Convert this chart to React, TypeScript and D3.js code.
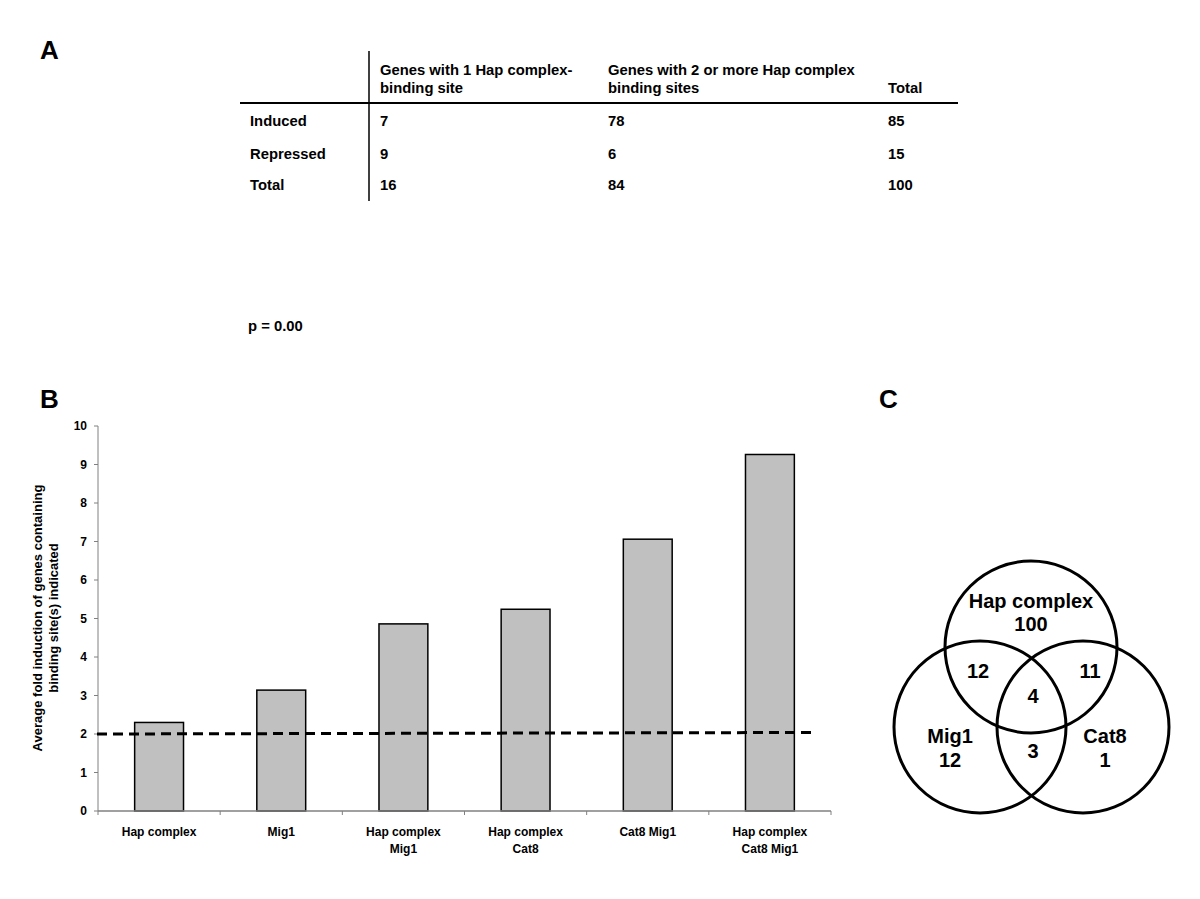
import React from "react";
import * as d3 from "d3";

const tableColumns = ["Genes with 1 Hap complex-|binding site", "Genes with 2 or more Hap complex|binding sites", "Total"];
const tableRows = ["Induced", "Repressed", "Total"];
const oneSite = [7, 9, 16];
const twoSites = [78, 6, 84];
const rowTotals = [85, 15, 100];
const pValueLabel = "p = 0.00";

const barCategories = ["Hap complex", "Mig1", "Hap complex|Mig1", "Hap complex|Cat8", "Cat8 Mig1", "Hap complex|Cat8 Mig1"];
const barValues = [2.3, 3.14, 4.86, 5.24, 7.06, 9.26];
const yTicks = [0, 1, 2, 3, 4, 5, 6, 7, 8, 9, 10];
const thresholdValues = [2.0, 2.04];
const yTitle = ["Average fold induction of genes containing", "binding site(s) indicated"];

const vennSets = ["Hap complex", "Mig1", "Cat8"];
const vennOnly = [100, 12, 1];
const vennPairs = [12, 11, 3]; // Hap∩Mig1, Hap∩Cat8, Mig1∩Cat8
const vennAll = 4;

const FONT = "'Liberation Sans', Arial, sans-serif";

export default function App() {
  const W = 1200, H = 899;
  const m = { left: 98, right: 831, top: 426, bottom: 811 };
  const x = d3.scaleBand<string>().domain(barCategories).range([m.left, m.right]).paddingInner(0.6).paddingOuter(0.3);
  const xb = d3.scaleBand<string>().domain(barCategories).range([m.left, m.right]);
  const y = d3.scaleLinear().domain([0, 10]).range([m.bottom, m.top]);
  const thrX = d3.scaleLinear().domain([0, 1]).range([m.left - 1, 815]);
  const lineGen = d3.line<number>().x((_, i) => thrX(i)).y((v) => y(v));

  // table layout
  const colX = [250, 380, 608, 888];
  const rowY = [126, 159, 190];

  // venn layout
  const R = 86;
  const circles = [
    { cx: 1031, cy: 647 },
    { cx: 980, cy: 727 },
    { cx: 1083, cy: 727 },
  ];

  const ts = { fontFamily: FONT, fontWeight: 700 as const };

  return (
    <svg width={W} height={H} style={{ position: "absolute", left: 0, top: 0, background: "#fff" }}>
      <rect x={0} y={0} width={W} height={H} fill="#fff" />
      {/* Panel labels */}
      <text x={40} y={59} fontSize={26} {...ts}>A</text>
      <text x={40} y={408} fontSize={26} {...ts}>B</text>
      <text x={879} y={408} fontSize={26} {...ts}>C</text>

      {/* Table */}
      <g fontSize={14.8} {...ts} fill="#000">
        <line x1={369} x2={369} y1={51} y2={201} stroke="#000" strokeWidth={1.5} />
        <line x1={240} x2={958} y1={103} y2={103} stroke="#000" strokeWidth={2} />
        {tableColumns.map((c, i) => {
          const parts = c.split("|");
          return parts.length === 2 ? (
            <g key={i}>
              <text x={colX[i + 1]} y={75}>{parts[0]}</text>
              <text x={colX[i + 1]} y={93}>{parts[1]}</text>
            </g>
          ) : (
            <text key={i} x={colX[i + 1]} y={93}>{parts[0]}</text>
          );
        })}
        {tableRows.map((r, i) => (
          <g key={r + i}>
            <text x={colX[0]} y={rowY[i]}>{r}</text>
            <text x={colX[1]} y={rowY[i]}>{oneSite[i]}</text>
            <text x={colX[2]} y={rowY[i]}>{twoSites[i]}</text>
            <text x={colX[3]} y={rowY[i]}>{rowTotals[i]}</text>
          </g>
        ))}
        <text x={248} y={331}>{pValueLabel}</text>
      </g>

      {/* Bar chart */}
      <g>
        {barCategories.map((c, i) => (
          <rect key={c} x={x(c)} y={y(barValues[i])} width={x.bandwidth()} height={y(0) - y(barValues[i])}
            fill="#c0c0c0" stroke="#000" strokeWidth={1.5} />
        ))}
        {/* y axis */}
        <line x1={m.left} x2={m.left} y1={y(10)} y2={y(0)} stroke="#808080" strokeWidth={1} />
        {yTicks.map((t) => (
          <g key={t}>
            <line x1={m.left - 4} x2={m.left} y1={y(t)} y2={y(t)} stroke="#808080" />
            <text x={m.left - 11} y={y(t)} dy="0.35em" textAnchor="end" fontSize={12} {...ts}>{t}</text>
          </g>
        ))}
        {/* x axis */}
        <line x1={m.left} x2={m.right} y1={y(0)} y2={y(0)} stroke="#808080" strokeWidth={1.5} />
        {[...barCategories.map((c) => xb(c) as number), m.right].map((v, i) => (
          <line key={i} x1={v} x2={v} y1={y(0)} y2={y(0) + 4} stroke="#808080" />
        ))}
        {barCategories.map((c) => {
          const cx = (xb(c) as number) + xb.bandwidth() / 2;
          return c.split("|").map((p, j) => (
            <text key={c + j} x={cx} y={836 + j * 17} textAnchor="middle" fontSize={12} {...ts}>{p}</text>
          ));
        })}
        <path d={lineGen(thresholdValues) || ""} fill="none" stroke="#000" strokeWidth={3} strokeDasharray="10,6" />
        <g transform="translate(0,618) rotate(-90)">
          {yTitle.map((t, i) => (
            <text key={i} x={0} y={42 + i * 16} textAnchor="middle" fontSize={13} {...ts}>{t}</text>
          ))}
        </g>
      </g>

      {/* Venn */}
      <g>
        {circles.map((c, i) => (
          <circle key={vennSets[i]} cx={c.cx} cy={c.cy} r={R} fill="none" stroke="#000" strokeWidth={3} />
        ))}
        <g fontSize={20} {...ts} textAnchor="middle">
          <text x={1031} y={608}>{vennSets[0]}</text>
          <text x={1031} y={631}>{vennOnly[0]}</text>
          <text x={950} y={743}>{vennSets[1]}</text>
          <text x={950} y={767}>{vennOnly[1]}</text>
          <text x={1105} y={743}>{vennSets[2]}</text>
          <text x={1105} y={767}>{vennOnly[2]}</text>
          <text x={978} y={678}>{vennPairs[0]}</text>
          <text x={1090} y={678}>{vennPairs[1]}</text>
          <text x={1033} y={758}>{vennPairs[2]}</text>
          <text x={1033} y={703}>{vennAll}</text>
        </g>
      </g>
    </svg>
  );
}
